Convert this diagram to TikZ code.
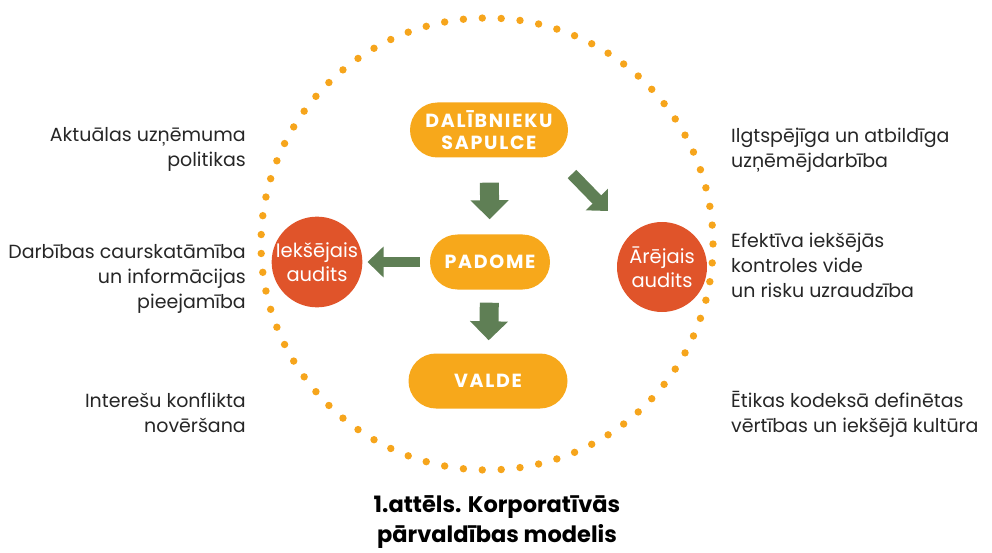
\documentclass[tikz,border=0pt]{standalone}
\usepackage{fontspec}
\setmainfont{Poppins}
\usetikzlibrary{arrows.meta,calc}
\definecolor{pillc}{HTML}{F7A81B}
\definecolor{redc}{HTML}{E0542A}
\definecolor{dotc}{HTML}{F6A51C}
\definecolor{arrc}{HTML}{5F7F55}
\definecolor{txtc}{HTML}{262626}
\tikzset{
  pill/.style={fill=pillc, rounded corners=27.5pt, minimum height=55pt, text=white, font=\fontsize{19}{22}\selectfont\bfseries\addfontfeature{LetterSpace=9}, align=center, inner sep=0pt},
  audit/.style={circle, fill=redc, minimum size=90pt, inner sep=0pt, text=white, font=\fontsize{19.5}{24}\selectfont, align=center},
  side/.style={font=\fontsize{19}{25}\selectfont, text=txtc, inner sep=0pt},
  fatdown/.style={arrc, line width=19pt, -{Triangle[width=37pt,length=19pt]}},
  thinarr/.style={arrc, line width=10pt, -{Triangle[width=30pt,length=16pt]}},
  captxt/.style={font=\fontsize{22.5}{30}\selectfont\bfseries, text=black, align=center, inner sep=0pt}
}
\begin{document}
\begin{tikzpicture}[x=1pt,y=-1pt]
\useasboundingbox (0,0) rectangle (992,553);
% dotted circle
\coordinate (C) at (487,244);
\foreach \i in {0,...,74}{
  \fill[dotc] ($(C)+(\i*4.8:226pt)$) circle (3.7pt);
}
% pills
\node[pill, minimum width=158pt] (sap) at (489,130) {DALĪBNIEKU\\SAPULCE};
\node[pill, minimum width=120pt] (pad) at (490,262) {PADOME};
\node[pill, minimum width=159pt] (val) at (488,381) {VALDE};
% audit circles
\node[audit] (iek) at (317,262) {Iekšējais\\audits};
\node[audit] (are) at (662,267) {Ārējais\\audits};
% arrows
\draw[fatdown, shorten <=25pt, shorten >=15pt] (sap) -- (pad);
\draw[fatdown, shorten <=13pt, shorten >=13pt] (pad) -- (val);
\draw[thinarr, shorten <=10pt, shorten >=5pt] (pad.west) -- (iek.east);
\coordinate (d1) at (572,174);
\coordinate (d2) at (608,211);
\draw[thinarr, line width=12pt] (d1) -- (d2);
% left texts (base anchor = baseline of last line)
\node[side, anchor=base east, align=right] (t1) at (246,167) {Aktuālas uzņēmuma\\politikas};
\node[side, anchor=base east, align=right] (t2) at (246,308) {Darbības caurskatāmība\\un informācijas\\pieejamība};
\node[side, anchor=base east, align=right] (t3) at (246,432) {Interešu konflikta\\novēršana};
% right texts
\node[side, anchor=base west, align=left] (t4) at (731,168) {Ilgtspējīga un atbildīga\\uzņēmējdarbība};
\node[side, anchor=base west, align=left] (t5) at (731,297) {Efektīva iekšējās\\kontroles vide\\un risku uzraudzība};
\node[side, anchor=base west, align=left] (t6) at (731,432) {Ētikas kodeksā definētas\\vērtības un iekšējā kultūra};
% caption
\node[captxt] (capt) at (497,522) {1.attēls. Korporatīvās\\pārvaldības modelis};
\end{tikzpicture}
\end{document}
